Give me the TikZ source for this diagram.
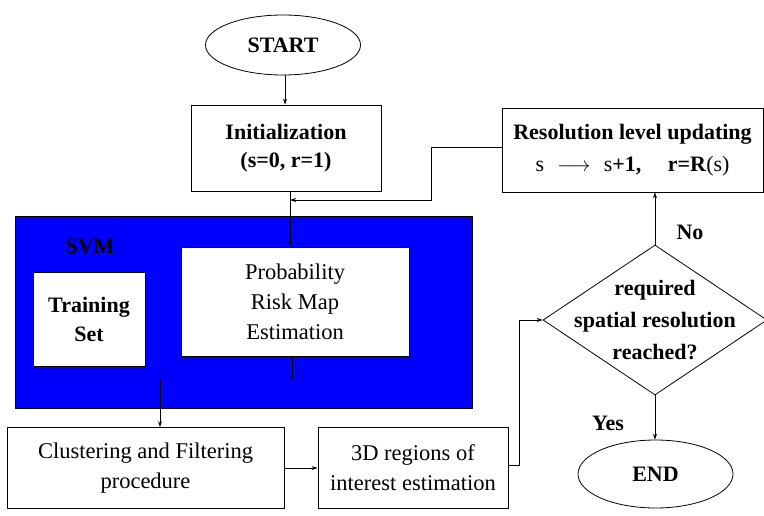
\documentclass[tikz,border=0pt]{standalone}
\usepackage{fontspec}
\setmainfont{Liberation Serif}
\usetikzlibrary{shapes.geometric,arrows.meta}
\begin{document}
\begin{tikzpicture}[x=1pt,y=-1pt,
  bf/.style={font=\fontsize{22}{29}\selectfont\bfseries},
  rm/.style={font=\fontsize{22.5}{30}\selectfont},
  box/.style={draw=black, line width=0.8pt, fill=white, rectangle, inner sep=0pt, align=center},
  oval/.style={draw=black, line width=0.8pt, ellipse, inner sep=0pt, bf},
  conn/.style={draw=black, line width=0.8pt},
  arr/.style={conn, -{Stealth[length=6pt,width=4pt]}}
]
\useasboundingbox (0,0) rectangle (764,515);
\fill[white] (0,0) rectangle (764,515);
% SVM block
\node[draw=black, line width=0.8pt, fill={rgb,255:red,0;green,0;blue,255}, rectangle, inner sep=0pt,
  minimum width=457pt, minimum height=192pt] (svm) at (243.5,312) {};
\node[bf] (svmlbl) at (90,246) {SVM};
\node[box, bf, minimum width=112pt, minimum height=94pt] (train) at (89,319) {Training\\Set};
\node[box, rm, minimum width=228pt, minimum height=109pt] (prob) at (295,301.5) {Probability\\Risk Map\\Estimation};
% nodes
\node[oval, minimum width=155pt, minimum height=60pt] (start) at (283,45) {START};
\node[box, bf, minimum width=190pt, minimum height=86pt, font=\fontsize{22}{28}\selectfont\bfseries] (init) at (286,148) {Initialization\\(s=0, r=1)};
\node[box, minimum width=261pt, minimum height=84pt, font=\fontsize{22}{32}\selectfont] (res) at (632.5,150)
  {\textbf{Resolution level updating}\\ s\hspace{0.6em}$\longrightarrow$\hspace{0.6em}s\textbf{+1,}\hspace{1.2em}\textbf{r=R}(s)};
\node[box, rm, minimum width=277pt, minimum height=81pt] (clus) at (145.5,468) {Clustering and Filtering\\procedure};
\node[box, rm, minimum width=190pt, minimum height=81pt] (roi) at (413,468) {3D regions of\\interest estimation};
\node[draw=black, line width=0.8pt, diamond, inner sep=0pt, minimum width=224pt, minimum height=150pt] (dec) at (655,320) {};
\node[align=center, font=\fontsize{22}{32}\selectfont\bfseries] (dectext) at (dec.center) {required\\spatial resolution\\reached?};
\node[oval, minimum width=155pt, minimum height=68pt] (end) at (655.5,474) {END};
\node[bf] (no) at (690,232) {No};
\node[bf] (yes) at (608,423) {Yes};
% connectors
\coordinate (top1) at (285,0);
\coordinate (join) at (290,200);
\coordinate (bend1) at (431,200);
\coordinate (bend2) at (160,379);
\coordinate (bend3) at (519,320);
\draw[arr] (start.south -| top1) -- (top1 |- init.north);
\draw[arr] (init.south -| join) -- (join |- prob.north);
\draw[arr] ([yshift=3pt]res.west) -| (bend1) -- (join);
\draw[arr] ([xshift=-3pt]prob.south) |- (bend2) -- (bend2 |- clus.north);
\draw[arr] (clus.east) -- (roi.west);
\draw[arr] ([yshift=3pt]roi.east) -| (bend3) -- (dec.west);
\draw[arr] (dec.north) -- (dec.north |- res.south);
\draw[arr] (dec.south) -- (dec.south |- end.north);
\end{tikzpicture}
\end{document}
